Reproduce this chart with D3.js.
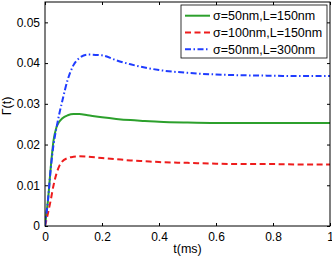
<!DOCTYPE html>
<html>
<head>
<meta charset="utf-8">
<script src="https://cdn.jsdelivr.net/npm/d3@7"></script>
<style>
	body { margin: 0; background: #fff; }
	svg { display: block; font-family: "Liberation Sans", Arial, sans-serif; }
</style>
</head>
<body>
<div id="chart"></div>
<script>
// time axis (ms) shared by all curves
var tValues = [0, 0.005, 0.01, 0.02, 0.03, 0.04, 0.05, 0.06, 0.08, 0.1, 0.12, 0.15, 0.2, 0.25, 0.3, 0.35, 0.4, 0.5, 0.6, 0.7, 0.8, 0.9, 1];

var gammaS50L150 = [0, 0.003, 0.006, 0.0142, 0.0210, 0.0242, 0.0256, 0.0264, 0.0272, 0.0275, 0.0275, 0.0272, 0.0267, 0.0263, 0.0260, 0.0258, 0.0256, 0.0254, 0.0253, 0.0253, 0.0253, 0.0253, 0.0253];
var gammaS100L150 = [0, 0.0015, 0.003, 0.0063, 0.0100, 0.0128, 0.0147, 0.0158, 0.0167, 0.0170, 0.0171, 0.0170, 0.0167, 0.0164, 0.0161, 0.0159, 0.0157, 0.0155, 0.0153, 0.0152, 0.0152, 0.0151, 0.0151];
var gammaS50L300 = [0, 0.003, 0.006, 0.0140, 0.0200, 0.0240, 0.0275, 0.0305, 0.0360, 0.0395, 0.0412, 0.0421, 0.0419, 0.0407, 0.0397, 0.0389, 0.0383, 0.0376, 0.0372, 0.0370, 0.0369, 0.0368, 0.0368];

var seriesNames = ["\u03c3=50nm,L=150nm", "\u03c3=100nm,L=150nm", "\u03c3=50nm,L=300nm"];
var xTicks = [0, 0.2, 0.4, 0.6, 0.8, 1];
var yTicks = [0, 0.01, 0.02, 0.03, 0.04, 0.05];

var width = 332, height = 258,
	margin = {top: 2, right: 2, bottom: 32, left: 45},
	innerW = width - margin.left - margin.right,
	innerH = height - margin.top - margin.bottom;

var styles = [
	{color: "#2ca02c", dash: null},
	{color: "#ee1c1c", dash: "6,3.5"},
	{color: "#1f3cff", dash: "6,2.5,1.5,2.5"}
];
var seriesData = [gammaS50L150, gammaS100L150, gammaS50L300];

var svg = d3.select("#chart").append("svg")
	.attr("width", width).attr("height", height);

var g = svg.append("g").attr("transform", "translate(" + margin.left + "," + margin.top + ")");

var x = d3.scaleLinear().domain([0, 1]).range([0, innerW]);
var y = d3.scaleLinear().domain([0, 0.055]).range([innerH, 0]);

// axes, ticks pointing inward like matlab
function styleAxis(sel) {
	sel.selectAll("text").attr("fill", "#000").style("font-size", "12px");
	sel.selectAll("line").attr("stroke", "#000");
	sel.select(".domain").remove();
}
var fmt = function(d) { return d === 0 ? "0" : d3.format("")(+d.toFixed(2)); };

g.append("g").attr("transform", "translate(0," + innerH + ")")
	.call(d3.axisBottom(x).tickValues(xTicks).tickSizeInner(-3).tickSizeOuter(0).tickPadding(6).tickFormat(fmt))
	.call(styleAxis);
g.append("g")
	.call(d3.axisTop(x).tickValues(xTicks).tickSizeInner(-3).tickSizeOuter(0).tickFormat(""))
	.call(styleAxis);
g.append("g")
	.call(d3.axisLeft(y).tickValues(yTicks).tickSizeInner(-3).tickSizeOuter(0).tickPadding(5).tickFormat(fmt))
	.call(styleAxis);
g.append("g").attr("transform", "translate(" + innerW + ",0)")
	.call(d3.axisRight(y).tickValues(yTicks).tickSizeInner(-3).tickSizeOuter(0).tickFormat(""))
	.call(styleAxis);

var clip = g.append("clipPath").attr("id", "plotclip")
	.append("rect").attr("width", innerW).attr("height", innerH);

var line = d3.line()
	.x(function(d, i) { return x(tValues[i]); })
	.y(function(d) { return y(d); })
	.curve(d3.curveMonotoneX);

g.append("g").attr("clip-path", "url(#plotclip)")
	.selectAll("path")
	.data(seriesData)
	.enter().append("path")
	.attr("d", line)
	.attr("fill", "none")
	.attr("stroke", function(d, i) { return styles[i].color; })
	.attr("stroke-width", 2)
	.attr("stroke-dasharray", function(d, i) { return styles[i].dash; });

g.append("rect")
	.attr("width", innerW).attr("height", innerH)
	.attr("fill", "none").attr("stroke", "#000").attr("stroke-width", 1);

// legend
var legend = g.append("g").attr("transform", "translate(" + (181 - margin.left) + "," + (5 - margin.top) + ")");
legend.append("rect")
	.attr("width", 146).attr("height", 53)
	.attr("fill", "#fff").attr("stroke", "#000").attr("stroke-width", 0.8);
var items = legend.selectAll(".item").data(seriesNames).enter().append("g")
	.attr("transform", function(d, i) { return "translate(0," + (10.7 + i * 16.8) + ")"; });
items.append("line")
	.attr("x1", 4).attr("x2", 29)
	.attr("stroke", function(d, i) { return styles[i].color; })
	.attr("stroke-width", 2)
	.attr("stroke-dasharray", function(d, i) { return styles[i].dash; });
items.append("text")
	.attr("x", 32).attr("dy", "0.36em")
	.style("font-size", "12.5px")
	.text(function(d) { return d; });

// axis labels
svg.append("text")
	.attr("x", margin.left + x(0.5)).attr("y", 253)
	.attr("text-anchor", "middle").style("font-size", "12.5px")
	.text("t(ms)");
svg.append("text")
	.attr("transform", "translate(11," + (margin.top + innerH / 2 - 8) + ") rotate(-90)")
	.attr("text-anchor", "middle").style("font-size", "12.5px")
	.text("\u0393(t)");
</script>
</body>
</html>
